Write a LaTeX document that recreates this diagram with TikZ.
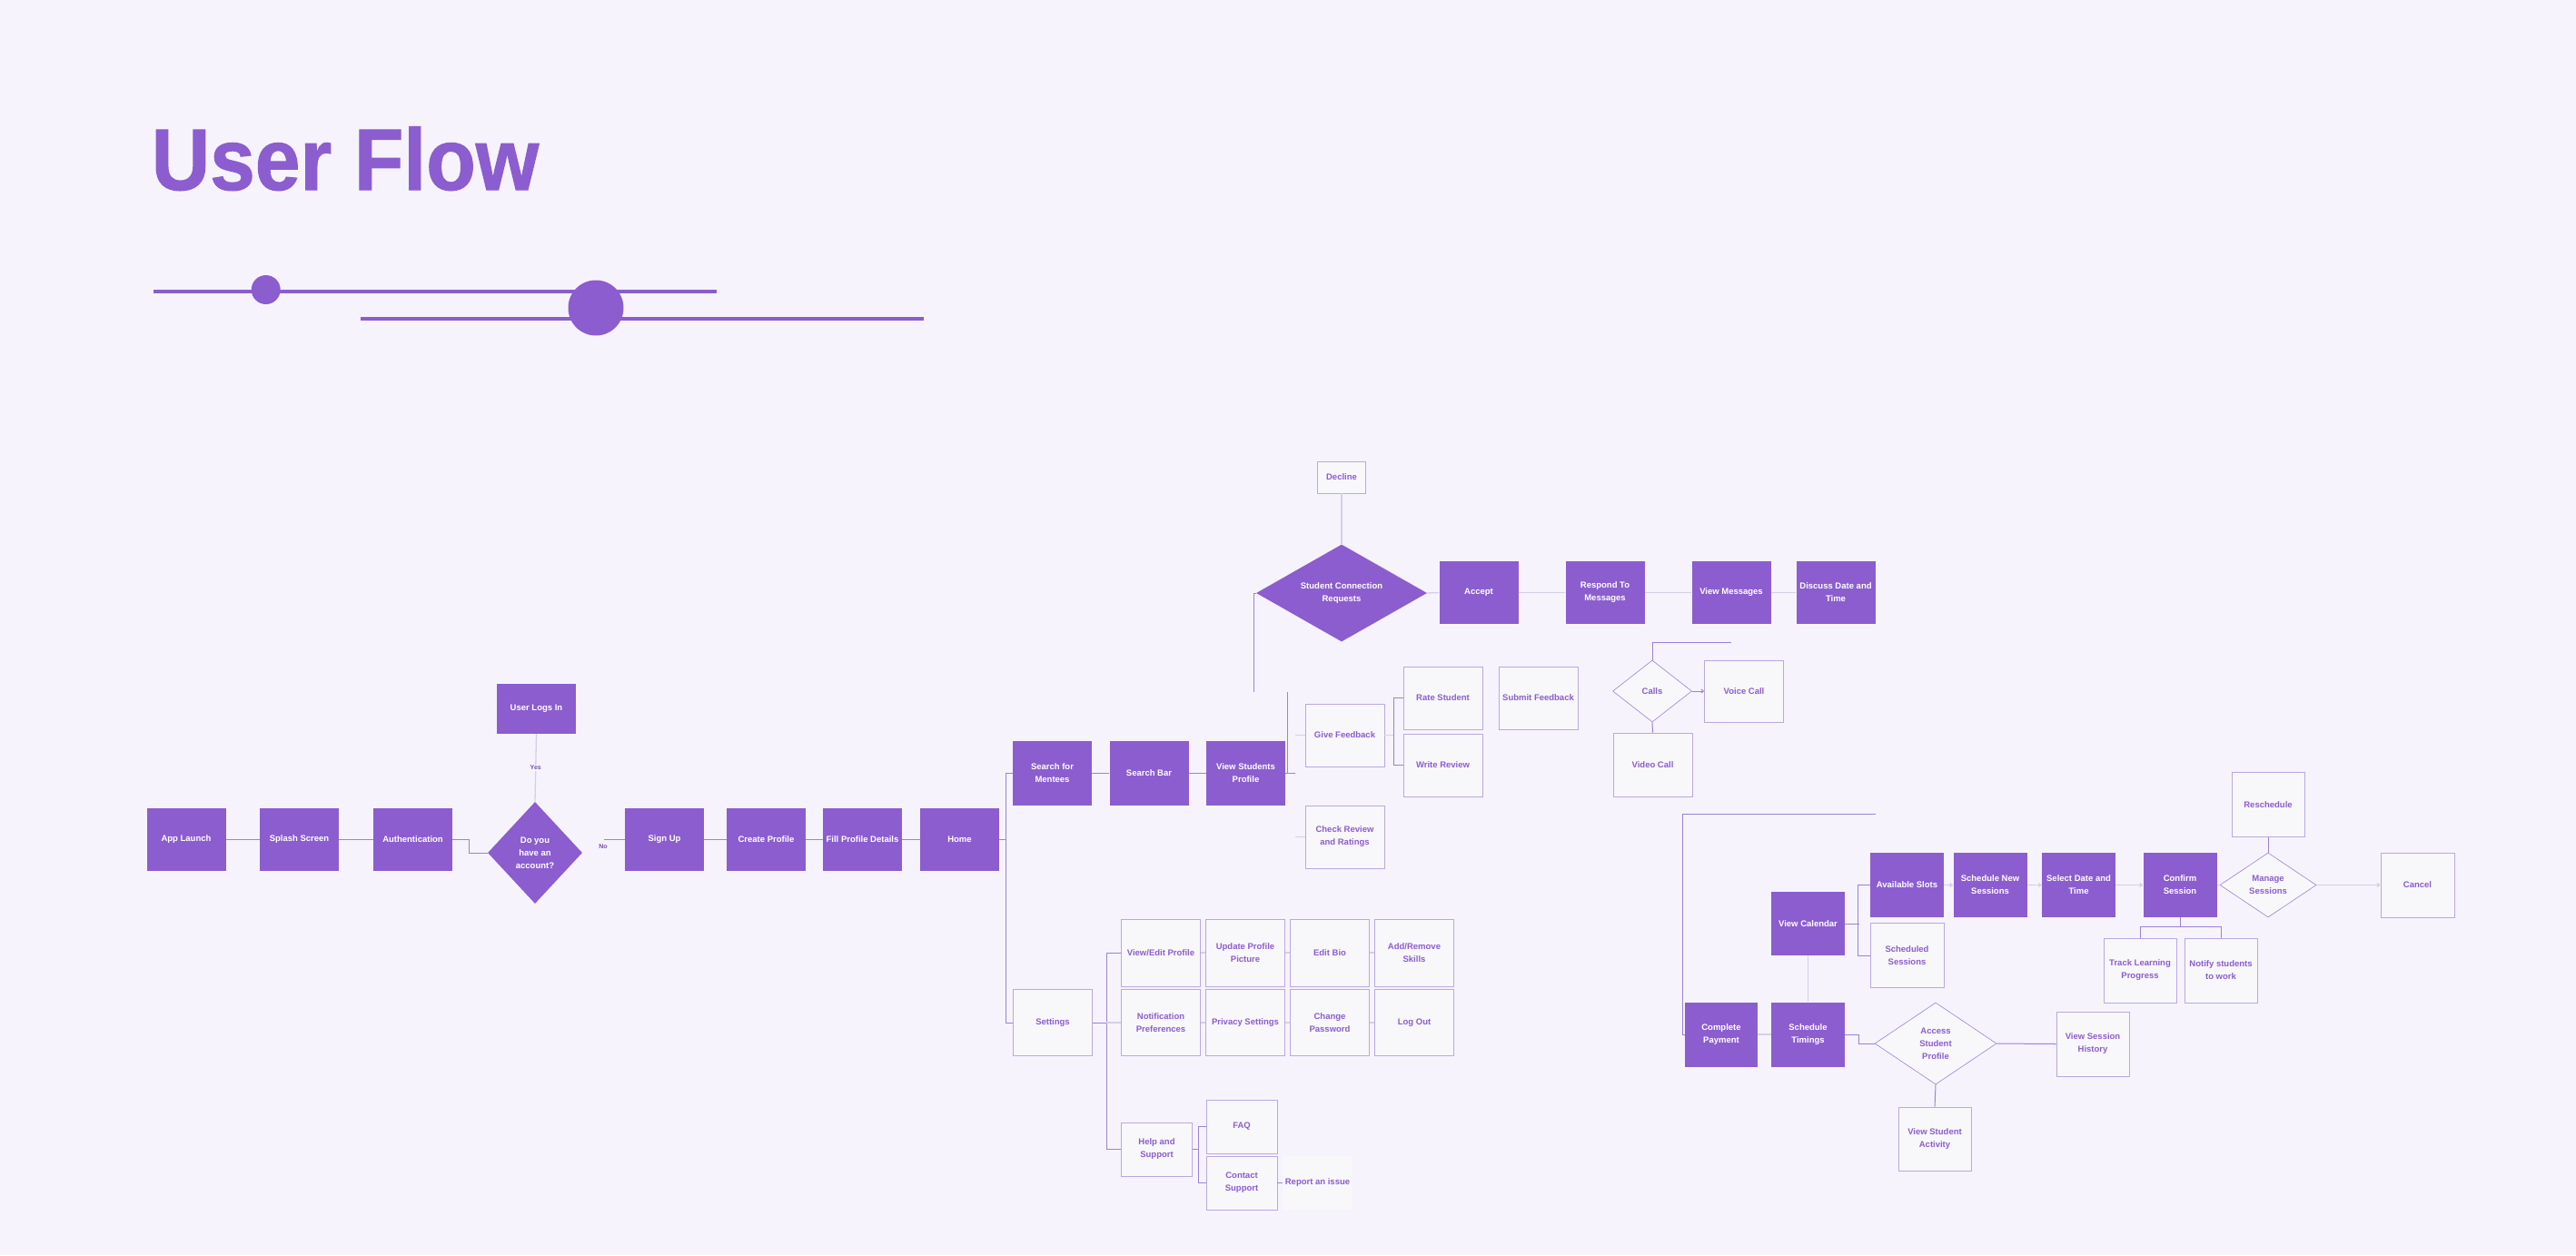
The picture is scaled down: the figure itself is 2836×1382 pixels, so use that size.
\documentclass[tikz,border=0pt]{standalone}
\usepackage{fontspec}
\setmainfont{Liberation Sans}
\newfontfamily\titlefont{Liberation Sans Bold}[FakeBold=1.2]
\usepackage{graphicx}
\usetikzlibrary{shapes.geometric,arrows.meta}
\definecolor{purp}{HTML}{8C5DCF}
\definecolor{bg}{HTML}{F6F3FD}
\definecolor{lfill}{HTML}{F8F7FA}
\definecolor{lbord}{HTML}{BBA8E0}
\definecolor{lnc}{HTML}{9C82D6}
\definecolor{lnf}{HTML}{D6CFE6}
\tikzset{
  txt/.style={inner sep=0pt, align=center, font=\fontsize{9.5}{14}\selectfont\bfseries},
  pbox/.style={txt, rectangle, fill=purp, text=white, minimum width=87pt, minimum height=69pt},
  lbox/.style={txt, rectangle, fill=lfill, draw=lbord, line width=0.8pt, text=purp, minimum width=87pt, minimum height=69pt},
  cal/.style={minimum width=81pt, minimum height=71pt},
  pdia/.style={diamond, fill=purp, inner sep=0pt},
  ldia/.style={diamond, fill=lfill, draw=lnc, line width=0.6pt, inner sep=0pt},
  ptxt/.style={txt, text=white},
  ltxt/.style={txt, text=purp},
  conn/.style={draw=lnc, line width=1pt},
  connf/.style={draw=lnf, line width=1.3pt},
  tip/.style={-{Straight Barb[length=2.5pt,width=4pt]}},
  yesno/.style={inner sep=1pt, text=purp!85!black, font=\fontsize{7}{8}\selectfont\bfseries}
}
\begin{document}
\begin{tikzpicture}[x=1pt,y=-1pt]
\fill[bg] (0,0) rectangle (2836,1382);
\useasboundingbox (0,0) rectangle (2836,1382);

% ---------- title ----------
\node[anchor=base west, inner sep=0pt, text=purp, font=\fontsize{96}{96}\selectfont\titlefont] (title) at (166.5,209) {\scalebox{0.93}[1]{User Flow}};
\draw[purp, line width=4pt] (169,321) -- (789,321);
\fill[purp] (292.7,319) circle (16pt);
\draw[purp, line width=4pt] (397,350.7) -- (1017,350.7);
\fill[purp] (656,339) circle (30.5pt);

% ---------- main row ----------
\node[pbox] (applaunch) at (205,924.5) {App Launch};
\node[pbox] (splash) at (329.5,924.5) {Splash Screen};
\node[pbox] (auth) at (454.5,924.5) {Authentication};
\node[pdia, minimum width=104pt, minimum height=112pt] (q) at (589,939) {};
\node[ptxt] (qt) at (q.center) {Do you\\have an\\account?};
\node[pbox, minimum height=55pt] (login) at (590.5,780.5) {User Logs In};
\node[pbox] (signup) at (731.5,924.5) {Sign Up};
\node[pbox] (create) at (843.5,924.5) {Create Profile};
\node[pbox] (fill) at (949.5,924.5) {Fill Profile Details};
\node[pbox] (home) at (1056.5,924.5) {Home};

% ---------- search row ----------
\node[pbox, minimum height=71pt] (searchm) at (1158.5,851.5) {Search for\\Mentees};
\node[pbox, minimum height=71pt] (searchbar) at (1265,851.5) {Search Bar};
\node[pbox, minimum height=71pt] (vsp) at (1371.5,851.5) {View Students\\Profile};
\node[lbox] (givefb) at (1480.5,809.5) {Give Feedback};
\node[lbox] (checkrev) at (1480.5,921.5) {Check Review\\and Ratings};
\node[lbox] (rate) at (1588.5,768.5) {Rate Student};
\node[lbox] (write) at (1588.5,842.5) {Write Review};
\node[lbox] (submit) at (1693.5,768.5) {Submit Feedback};

% ---------- connection requests ----------
\node[pdia, minimum width=188pt, minimum height=107pt] (scr) at (1477,653) {};
\node[ptxt] (scrt) at (scr.center) {Student Connection\\Requests};
\node[lbox, minimum width=53pt, minimum height=35pt] (decline) at (1477,525.5) {Decline};
\node[pbox] (accept) at (1628,652.5) {Accept};
\node[pbox] (respond) at (1767,652.5) {Respond To\\Messages};
\node[pbox] (viewmsg) at (1906,652.5) {View Messages};
\node[pbox] (discuss) at (2021,652.5) {Discuss Date and\\Time};

% ---------- calls ----------
\node[ldia, minimum width=87pt, minimum height=68pt] (calls) at (1819,761) {};
\node[ltxt] (callst) at (calls.center) {Calls};
\node[lbox, minimum height=68pt] (voice) at (1920,761) {Voice Call};
\node[lbox, minimum height=70pt] (video) at (1819.5,842) {Video Call};

% ---------- settings ----------
\node[lbox, minimum height=73pt] (settings) at (1159,1126) {Settings};
\node[lbox, minimum height=74pt] (viewedit) at (1278,1049) {View/Edit Profile};
\node[lbox, minimum height=74pt] (updatepic) at (1371,1049) {Update Profile\\Picture};
\node[lbox, minimum height=74pt] (editbio) at (1464,1049) {Edit Bio};
\node[lbox, minimum height=74pt] (skills) at (1557,1049) {Add/Remove\\Skills};
\node[lbox, minimum height=73pt] (notif) at (1278,1126) {Notification\\Preferences};
\node[lbox, minimum height=73pt] (privacy) at (1371,1126) {Privacy Settings};
\node[lbox, minimum height=73pt] (changepw) at (1464,1126) {Change\\Password};
\node[lbox, minimum height=73pt] (logout) at (1557,1126) {Log Out};
\node[lbox, minimum width=78pt, minimum height=59pt] (help) at (1273.5,1265.5) {Help and\\Support};
\node[lbox, minimum width=78pt, minimum height=59pt] (faq) at (1367,1240.5) {FAQ};
\node[lbox, minimum width=78pt, minimum height=59pt] (contact) at (1367,1302.5) {Contact\\Support};
\node[txt, text=purp, fill=lfill, minimum width=77pt, minimum height=59pt] (report) at (1450.5,1302.5) {Report an issue};

% ---------- calendar ----------
\node[pbox, minimum width=81pt, minimum height=70pt] (viewcal) at (1990.5,1017) {View Calendar};
\node[pbox, cal] (avail) at (2099.5,974.5) {Available Slots};
\node[pbox, cal] (schednew) at (2191,974.5) {Schedule New\\Sessions};
\node[pbox, cal] (selectdt) at (2288.5,974.5) {Select Date and\\Time};
\node[pbox, cal] (confirm) at (2400,974.5) {Confirm\\Session};
\node[ldia, minimum width=106pt, minimum height=71pt] (manage) at (2497,974.5) {};
\node[ltxt] (managet) at (manage.center) {Manage\\Sessions};
\node[lbox, cal, minimum width=80pt] (reschedule) at (2497,886) {Reschedule};
\node[lbox, cal] (cancel) at (2661.5,974.5) {Cancel};
\node[lbox, cal] (schedsess) at (2099.5,1052) {Scheduled\\Sessions};
\node[lbox, cal, minimum width=80pt] (track) at (2356,1068.5) {Track Learning\\Progress};
\node[lbox, cal, minimum width=80pt] (notify) at (2445,1068.5) {Notify students\\to work};
\node[pbox, cal, minimum width=80pt] (payment) at (1895,1139) {Complete\\Payment};
\node[pbox, cal] (timings) at (1990.5,1139) {Schedule\\Timings};
\node[ldia, minimum width=134pt, minimum height=90pt] (access) at (2131,1149) {};
\node[ltxt] (accesst) at (access.center) {Access\\Student\\Profile};
\node[lbox, cal, minimum width=80pt] (history) at (2304,1149.5) {View Session\\History};
\node[lbox, cal, minimum width=80pt, minimum height=70pt] (activity) at (2130,1254) {View Student\\Activity};

% ---------- connectors: main row ----------
\draw[conn] (applaunch.east) -- (splash.west);
\draw[conn] (splash.east) -- (auth.west);
\draw[conn] (auth.east) -- (516,924.5) -- (516,939) -- (q.west);
\draw[connf] (q.north) -- node[yesno, fill=bg] (yes) {Yes} (login.south);
\coordinate (noA) at (665,924.5);
\draw[conn] (noA) -- (signup.west);
\node[yesno] (no) at (664,932) {No};
\draw[conn] (signup.east) -- (create.west);
\draw[conn] (create.east) -- (fill.west);
\draw[conn] (fill.east) -- (home.west);
\draw[conn] (home.east) -- (1107.5,924.5);
\draw[conn] (searchm.west) -- (1107.5,851.5) -- (1107.5,1126) -- (settings.west);

% ---------- connectors: search row ----------
\draw[conn] (searchm.east) -- (searchbar.west);
\draw[conn] (searchbar.east) -- (vsp.west);
\coordinate (vspUp) at (1417,762);
\draw[conn] (vsp.east) -| (vspUp);
\draw[conn] (vsp.east) -- ++(11,0);
\coordinate (scrDown) at (1380,762);
\draw[conn] (scr.west) -| (scrDown);
\draw[connf] (givefb.west) -- ++(-11,0);
\draw[connf] (checkrev.west) -- ++(-11,0);
\draw[connf] (givefb.east) -- ++(11,0);
\draw[conn] (rate.west) -- ++(-10,0) |- (write.west);

% ---------- connectors: requests ----------
\draw[connf] (decline.south) -- (scr.north);
\draw[connf] (scr.east) -- (accept.west);
\draw[connf] (accept.east) -- (respond.west);
\draw[connf] (respond.east) -- (viewmsg.west);
\draw[connf] (viewmsg.east) -- (discuss.west);
\coordinate (vmDown) at (1906,707);
\draw[conn] (vmDown) -| (calls.north);
\draw[conn, tip] (calls.east) -- (voice.west);
\draw[conn] (calls.south) -- (video.north);

% ---------- connectors: settings ----------
\draw[conn] (settings.east) -- ++(16,0);
\draw[conn] (viewedit.west) -- ++(-16,0) |- (help.west);
\draw[connf] (notif.west) -- ++(-16,0);
\draw[connf] (viewedit.east) -- (updatepic.west);
\draw[connf] (updatepic.east) -- (editbio.west);
\draw[connf] (editbio.east) -- (skills.west);
\draw[connf] (notif.east) -- (privacy.west);
\draw[connf] (privacy.east) -- (changepw.west);
\draw[connf] (changepw.east) -- (logout.west);
\draw[conn] (help.east) -- ++(7.5,0);
\draw[conn] (faq.west) -- ++(-8,0) |- (contact.west);
\draw[conn] (contact.east) -- (report.west);

% ---------- connectors: calendar ----------
\coordinate (payFree) at (2065,896.5);
\draw[conn] (payFree) -- (1852,896.5) |- (payment.west);
\draw[connf] (payment.east) -- (timings.west);
\draw[connf] (viewcal.south) -- (timings.north);
\draw[conn] (timings.east) -- ++(15,0) |- (access.west);
\draw[conn] (viewcal.east) -- ++(15.5,0);
\draw[conn] (avail.west) -- ++(-13.5,0) |- (schedsess.west);
\draw[connf, tip] (avail.east) -- (schednew.west);
\draw[connf, tip] (schednew.east) -- (selectdt.west);
\draw[connf, tip] (selectdt.east) -- (confirm.west);
\draw[connf] (confirm.east) -- (manage.west);
\draw[conn] (manage.north) -- (reschedule.south);
\draw[connf, tip] (manage.east) -- (cancel.west);
\draw[conn] (confirm.south) -- ++(0,11);
\draw[conn] (track.north) -- ++(0,-12) -| (notify.north);
\draw[conn] (access.east) -- (history.west);
\draw[conn] (access.south) -- (activity.north);
\end{tikzpicture}
\end{document}
